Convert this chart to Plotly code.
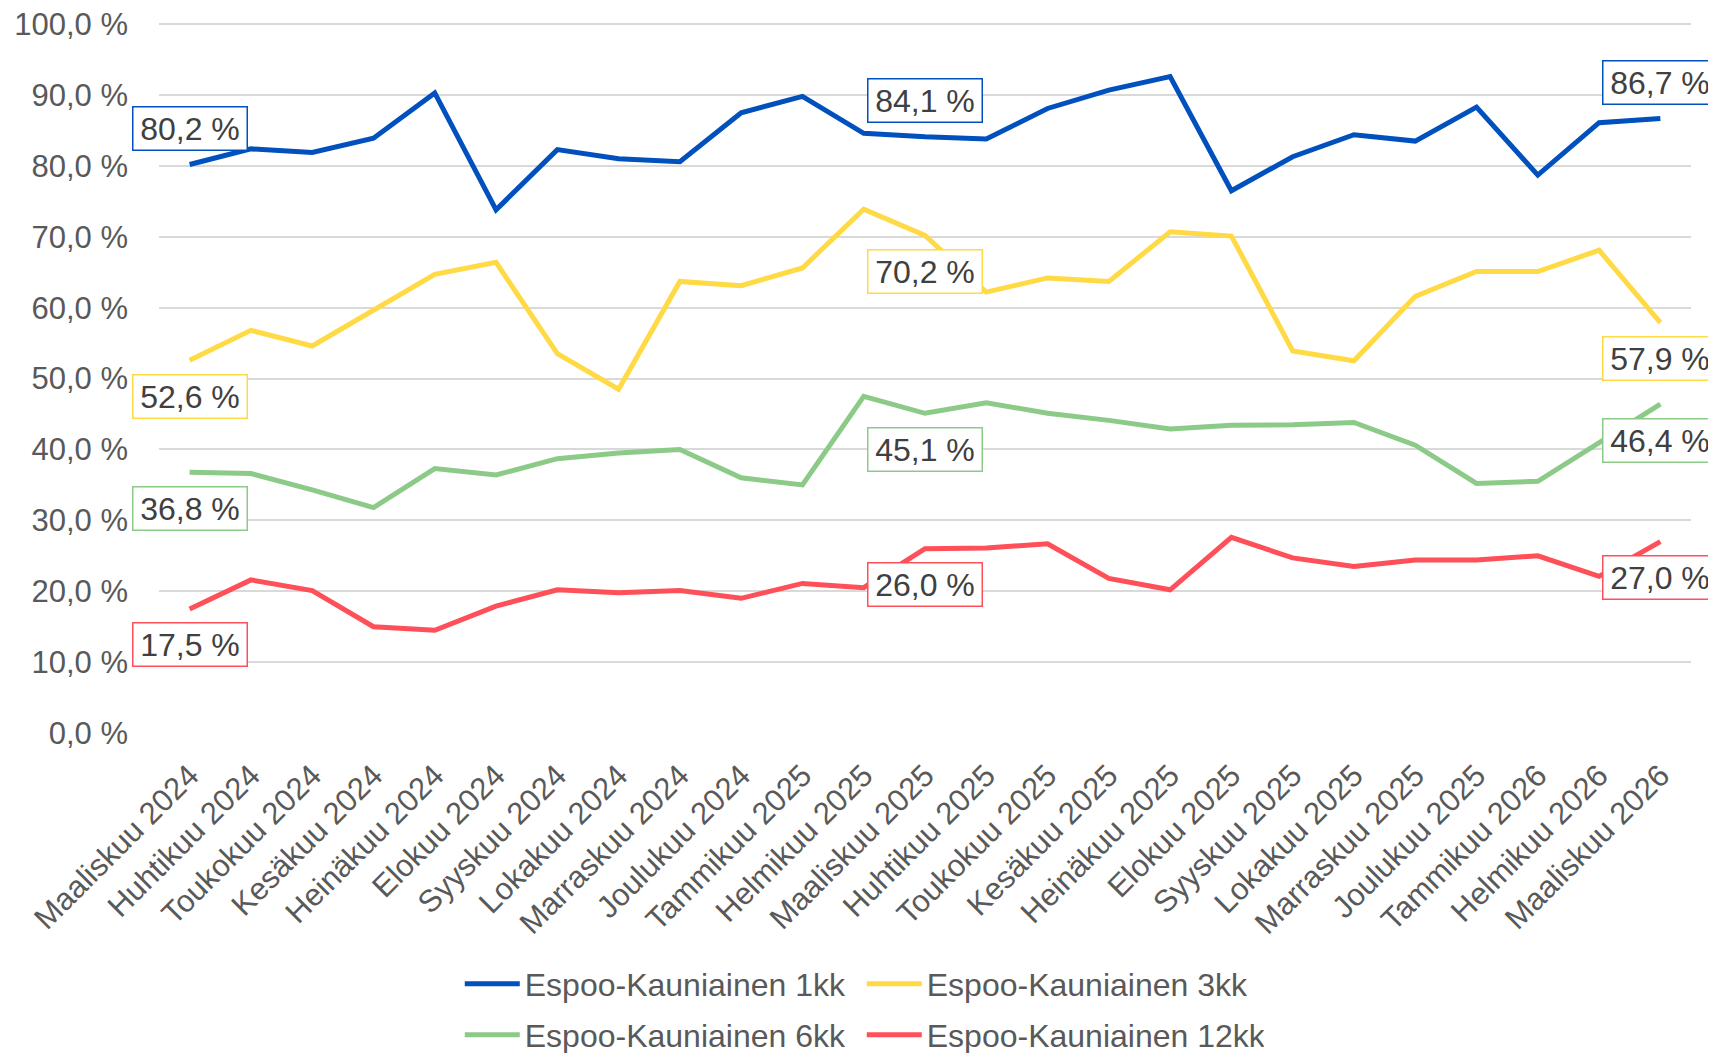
import plotly.graph_objects as go

months = ["Maaliskuu 2024", "Huhtikuu 2024", "Toukokuu 2024", "Kesäkuu 2024", "Heinäkuu 2024",
          "Elokuu 2024", "Syyskuu 2024", "Lokakuu 2024", "Marraskuu 2024", "Joulukuu 2024",
          "Tammikuu 2025", "Helmikuu 2025", "Maaliskuu 2025", "Huhtikuu 2025", "Toukokuu 2025",
          "Kesäkuu 2025", "Heinäkuu 2025", "Elokuu 2025", "Syyskuu 2025", "Lokakuu 2025",
          "Marraskuu 2025", "Joulukuu 2025", "Tammikuu 2026", "Helmikuu 2026", "Maaliskuu 2026"]

v1kk = [80.2, 82.4, 81.9, 83.9, 90.3, 73.8, 82.3, 81.0, 80.6, 87.5, 89.8, 84.6, 84.1,
        83.8, 88.1, 90.7, 92.6, 76.5, 81.3, 84.4, 83.5, 88.3, 78.7, 86.1, 86.7]
v3kk = [52.6, 56.8, 54.6, 59.6, 64.7, 66.4, 53.5, 48.5, 63.7, 63.1, 65.6, 73.9, 70.2,
        62.2, 64.2, 63.7, 70.7, 70.1, 53.9, 52.5, 61.6, 65.1, 65.1, 68.1, 57.9]
v6kk = [36.8, 36.6, 34.3, 31.8, 37.3, 36.4, 38.7, 39.5, 40.0, 36.0, 35.0, 47.5, 45.1,
        46.6, 45.1, 44.1, 42.9, 43.4, 43.5, 43.8, 40.6, 35.2, 35.5, 41.0, 46.4]
v12kk = [17.5, 21.6, 20.1, 15.0, 14.5, 17.9, 20.2, 19.8, 20.1, 19.0, 21.1, 20.5, 26.0,
         26.1, 26.7, 21.8, 20.2, 27.6, 24.7, 23.5, 24.4, 24.4, 25.0, 22.1, 27.0]

y_ticks = list(range(0, 101, 10))
y_tick_labels = [f"{t},0 %" for t in y_ticks]

series_names = ["Espoo-Kauniainen 1kk", "Espoo-Kauniainen 3kk",
                "Espoo-Kauniainen 6kk", "Espoo-Kauniainen 12kk"]
series_values = [v1kk, v3kk, v6kk, v12kk]
colors = ["#0050BE", "#FFDA45", "#8CCA88", "#FF4F58"]
legend_ids = ["legend", "legend", "legend2", "legend2"]
label_shift = [36, -36, -36, -36]
label_idx = [0, 12, 24]

FONT = "Liberation Sans, Arial, sans-serif"
FS = 32

fig = go.Figure()
for name, vals, col, lg in zip(series_names, series_values, colors, legend_ids):
    fig.add_trace(go.Scatter(x=months, y=vals, name=name, mode="lines",
                             line=dict(color=col, width=5), legend=lg))

def fmt(v):
    return f"{v:.1f}".replace(".", ",") + " %"

for vals, col, sh in zip(series_values, colors, label_shift):
    for i in label_idx:
        fig.add_annotation(x=months[i], y=vals[i], text=fmt(vals[i]), showarrow=False,
                           yshift=sh, bgcolor="white", bordercolor=col, borderwidth=1.5,
                           borderpad=0, width=113, height=42,
                           font=dict(family=FONT, size=FS, color="#404040"))

leg_common = dict(orientation="h", xref="container", yref="container",
                  x=0.2645, xanchor="left", yanchor="middle",
                  entrywidth=332, itemwidth=55,
                  font=dict(family=FONT, size=FS, color="#595959"),
                  bgcolor="rgba(0,0,0,0)")

fig.update_layout(
    width=1708, height=1045,
    margin=dict(l=151, r=25, t=14, b=320),
    paper_bgcolor="white", plot_bgcolor="white",
    font=dict(family=FONT, size=FS, color="#595959"),
    xaxis=dict(type="category", range=[-0.5, 24.5], tickangle=-45, showgrid=False,
               showline=False, ticks="", automargin=False, ticklabelstandoff=17,
               tickfont=dict(size=31, color="#595959")),
    yaxis=dict(range=[0, 100.3], tickvals=y_ticks, ticktext=y_tick_labels,
               showgrid=True, gridcolor="#D9D9D9", gridwidth=1.5, zeroline=False,
               automargin=False, ticks="", ticklabelstandoff=30,
               ticklabeloverflow="allow",
               tickfont=dict(size=31, color="#595959")),
    legend=dict(y=0.066, **leg_common),
    legend2=dict(y=0.0172, **leg_common),
    showlegend=True,
)

fig.write_html("out.html")
